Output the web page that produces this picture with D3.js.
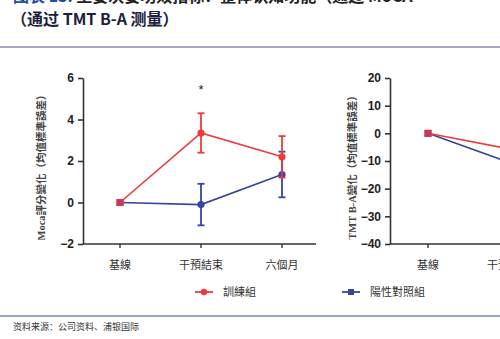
<!DOCTYPE html>
<html><head><meta charset="utf-8">
<script src="https://cdn.jsdelivr.net/npm/d3@7"></script>
<style>
body{margin:0;background:#fff;overflow:hidden}
svg{display:block}
</style></head>
<body>
<script>
// categories and series
const categories = ["基線", "干預結束", "六個月"];
const seriesNames = ["訓練組", "陽性對照組"];
// MoCA score change (mean, SEM)
const mocaTrain = [0, 3.35, 2.2];
const mocaTrainErr = [0, 0.95, 1.0];
const mocaControl = [0, -0.1, 1.35];
const mocaControlErr = [0, 1.0, 1.1];
const mocaTicks = [-2, 0, 2, 4, 6];
// TMT B-A change (mean, SEM)
const tmtTrain = [0, -5.6, -6.5];
const tmtTrainErr = [0, 2.5, 3.0];
const tmtControl = [0, -10.5, -9.0];
const tmtControlErr = [0, 3.0, 3.5];
const tmtTicks = [-40, -30, -20, -10, 0, 10, 20];

const RED = "#ec3b3d", BLUE = "#3546a0";
const W = 500, H = 339;
const svg = d3.select("body").append("svg").attr("width", W).attr("height", H);

// heading
const t1 = svg.append("text").attr("x", 13).attr("y", 2)
  .attr("font-family", "'Noto Sans CJK SC', sans-serif").attr("font-size", 16).attr("font-weight", "bold");
t1.append("tspan").attr("fill", "#1f4e9b").text("图表 13: ");
t1.append("tspan").attr("fill", "#222").text("主要次要功效指标：整体认知功能（通过 MoCA");
svg.append("text").attr("x", 11).attr("y", 25)
  .attr("font-family", "'Noto Sans CJK SC', sans-serif").attr("font-size", 16).attr("font-weight", "bold")
  .attr("fill", "#1c2140").text("（通过 TMT B-A 测量）");
svg.append("line").attr("x1", 0).attr("x2", W).attr("y1", 47).attr("y2", 47)
  .attr("stroke", "#a7a8c8").attr("stroke-width", 2);

function panel(opts) {
  const g = svg.append("g");
  const x = d3.scalePoint().domain(categories).range([opts.x0, opts.x0 + 162]);
  const y = d3.scaleLinear().domain(opts.domain).range([244, 78]);

  const yAxis = g.append("g").attr("transform", `translate(${opts.axisX},0)`)
    .call(d3.axisLeft(y).tickValues(opts.ticks).tickSize(5).tickSizeOuter(0));
  yAxis.select(".domain").attr("stroke", "#333").attr("stroke-width", 1.6);
  yAxis.selectAll(".tick line").attr("stroke", "#333").attr("stroke-width", 1.6);
  yAxis.selectAll("text").attr("font-family", "Arial, 'Liberation Sans', sans-serif")
    .attr("font-size", 12).attr("font-weight", "bold").attr("fill", "#222").attr("dx", -1);

  const xAxis = g.append("g").attr("transform", "translate(0,244)");
  xAxis.append("line").attr("x1", opts.axisX).attr("x2", opts.axisEnd)
    .attr("stroke", "#333").attr("stroke-width", 1.6);
  categories.forEach(c => {
    xAxis.append("line").attr("x1", x(c)).attr("x2", x(c)).attr("y1", 0).attr("y2", 4)
      .attr("stroke", "#333").attr("stroke-width", 1.4);
    xAxis.append("text").attr("x", x(c)).attr("y", 25).attr("text-anchor", "middle")
      .attr("font-family", "'Noto Sans CJK TC', sans-serif").attr("font-size", 11)
      .attr("fill", "#333").text(c);
  });

  g.append("text")
    .attr("transform", `translate(${opts.labelX},${165}) rotate(-90)`)
    .attr("text-anchor", "middle").attr("font-family", "'Liberation Serif', 'Noto Sans CJK TC', serif")
    .attr("font-size", 10.5).attr("font-weight", "bold").attr("fill", "#444").text(opts.label);

  const line = d3.line().x((d, i) => x(categories[i])).y(d => y(d));
  const series = [
    { vals: opts.control, err: opts.controlErr, color: BLUE },
    { vals: opts.train, err: opts.trainErr, color: RED }
  ];
  series.forEach(s => {
    g.append("path").datum(s.vals).attr("d", line).attr("fill", "none")
      .attr("stroke", s.color).attr("stroke-width", 1.6);
    s.vals.forEach((v, i) => {
      if (s.err[i] > 0) {
        const cx = x(categories[i]);
        const y1 = y(v - s.err[i]), y2 = y(v + s.err[i]);
        g.append("line").attr("x1", cx).attr("x2", cx).attr("y1", y1).attr("y2", y2)
          .attr("stroke", s.color).attr("stroke-width", 1.8);
        [y1, y2].forEach(yy => g.append("line").attr("x1", cx - 3.5).attr("x2", cx + 3.5)
          .attr("y1", yy).attr("y2", yy).attr("stroke", s.color).attr("stroke-width", 1.8));
      }
    });
    s.vals.forEach((v, i) => {
      const cx = x(categories[i]), cy = y(v);
      if (i === 0) {
        g.append("rect").attr("x", cx - 3.5).attr("y", cy - 3.5).attr("width", 7).attr("height", 7)
          .attr("fill", "#c9385a");
      } else {
        g.append("circle").attr("cx", cx).attr("cy", cy).attr("r", 3.6).attr("fill", s.color);
      }
    });
  });
  return { g, x, y };
}

const left = panel({
  x0: 120, axisX: 83, axisEnd: 316, domain: [-2, 6], ticks: mocaTicks,
  train: mocaTrain, trainErr: mocaTrainErr, control: mocaControl, controlErr: mocaControlErr,
  labelX: 45, label: "Moca評分變化（均值標準誤差）"
});
// significance mark
left.g.append("text").attr("x", left.x(categories[1])).attr("y", 94).attr("text-anchor", "middle")
  .attr("font-family", "Arial, sans-serif").attr("font-size", 13).attr("fill", "#222").text("*");

panel({
  x0: 428, axisX: 390, axisEnd: 620, domain: [-40, 20], ticks: tmtTicks,
  train: tmtTrain, trainErr: tmtTrainErr, control: tmtControl, controlErr: tmtControlErr,
  labelX: 356, label: "TMT B-A變化（均值標準誤差）"
});

// legend
const lg = svg.append("g").attr("font-family", "'Noto Sans CJK TC', sans-serif").attr("font-size", 11).attr("fill", "#333");
[[seriesNames[0], RED, "circle", 195], [seriesNames[1], BLUE, "square", 342]].forEach(([name, c, shp, lx]) => {
  lg.append("line").attr("x1", lx).attr("x2", lx + 18).attr("y1", 292).attr("y2", 292)
    .attr("stroke", c).attr("stroke-width", 1.8);
  if (shp === "circle") lg.append("circle").attr("cx", lx + 9).attr("cy", 292).attr("r", 3.2).attr("fill", c);
  else lg.append("rect").attr("x", lx + 6).attr("y", 289).attr("width", 6).attr("height", 6).attr("fill", c);
  lg.append("text").attr("x", lx + 28).attr("y", 296).text(name);
});

// footer
svg.append("line").attr("x1", 0).attr("x2", W).attr("y1", 316).attr("y2", 316)
  .attr("stroke", "#8fa5d2").attr("stroke-width", 2);
svg.append("text").attr("x", 13).attr("y", 330)
  .attr("font-family", "'Noto Sans CJK SC', serif").attr("font-size", 9).attr("fill", "#333")
  .text("资料来源：公司资料、浦银国际");
</script>
</body></html>
